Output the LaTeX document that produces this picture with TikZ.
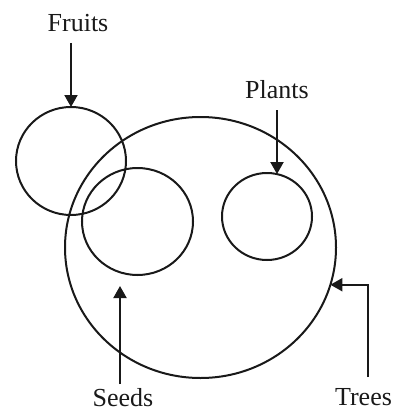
\documentclass[tikz,border=0pt]{standalone}
\usepackage{fontspec}
\setmainfont{Liberation Serif}
\usetikzlibrary{arrows.meta,shapes.geometric}
\begin{document}
\begin{tikzpicture}[x=1pt,y=-1pt,
  ring/.style={draw, ellipse, inner sep=0pt, outer sep=0pt, line width=2pt, black!90},
  lab/.style={anchor=base, font=\fontsize{26}{30}\selectfont, inner sep=0pt, text=black!90},
  pointer/.style={line width=2pt, black!90, -{Triangle[length=12pt,width=13pt]}}]
\useasboundingbox (0,0) rectangle (392,412);
% circles
\node[ring, minimum width=110pt, minimum height=108pt] (fruits) at (71,161) {};
\node[ring, minimum width=271pt, minimum height=261pt] (trees) at (200.5,247.5) {};
\node[ring, minimum width=111pt, minimum height=107pt] (seeds) at (137.5,221.5) {};
\node[ring, minimum width=90pt, minimum height=87pt] (plants) at (267,216.5) {};
% labels
\node[lab] (fruitslab) at (78,32) {Fruits};
\node[lab] (plantslab) at (277,98) {Plants};
\node[lab] (seedslab) at (123,406.5) {Seeds};
\node[lab] (treeslab) at (363.5,405) {Trees};
% arrow ends
\coordinate (fa) at (71,43);
\coordinate (pa) at (277,110);
\coordinate (sa) at (120,384);
\coordinate (sb) at (120,286);
\coordinate (ta) at (368,377);
% arrows
\draw[pointer] (fa) -- (fruits.north);
\draw[pointer] (pa) -- (pa |- plants.77);
\draw[pointer] (sa) -- (sb);
\draw[pointer] (ta) |- (trees.-16.6);
\end{tikzpicture}
\end{document}
